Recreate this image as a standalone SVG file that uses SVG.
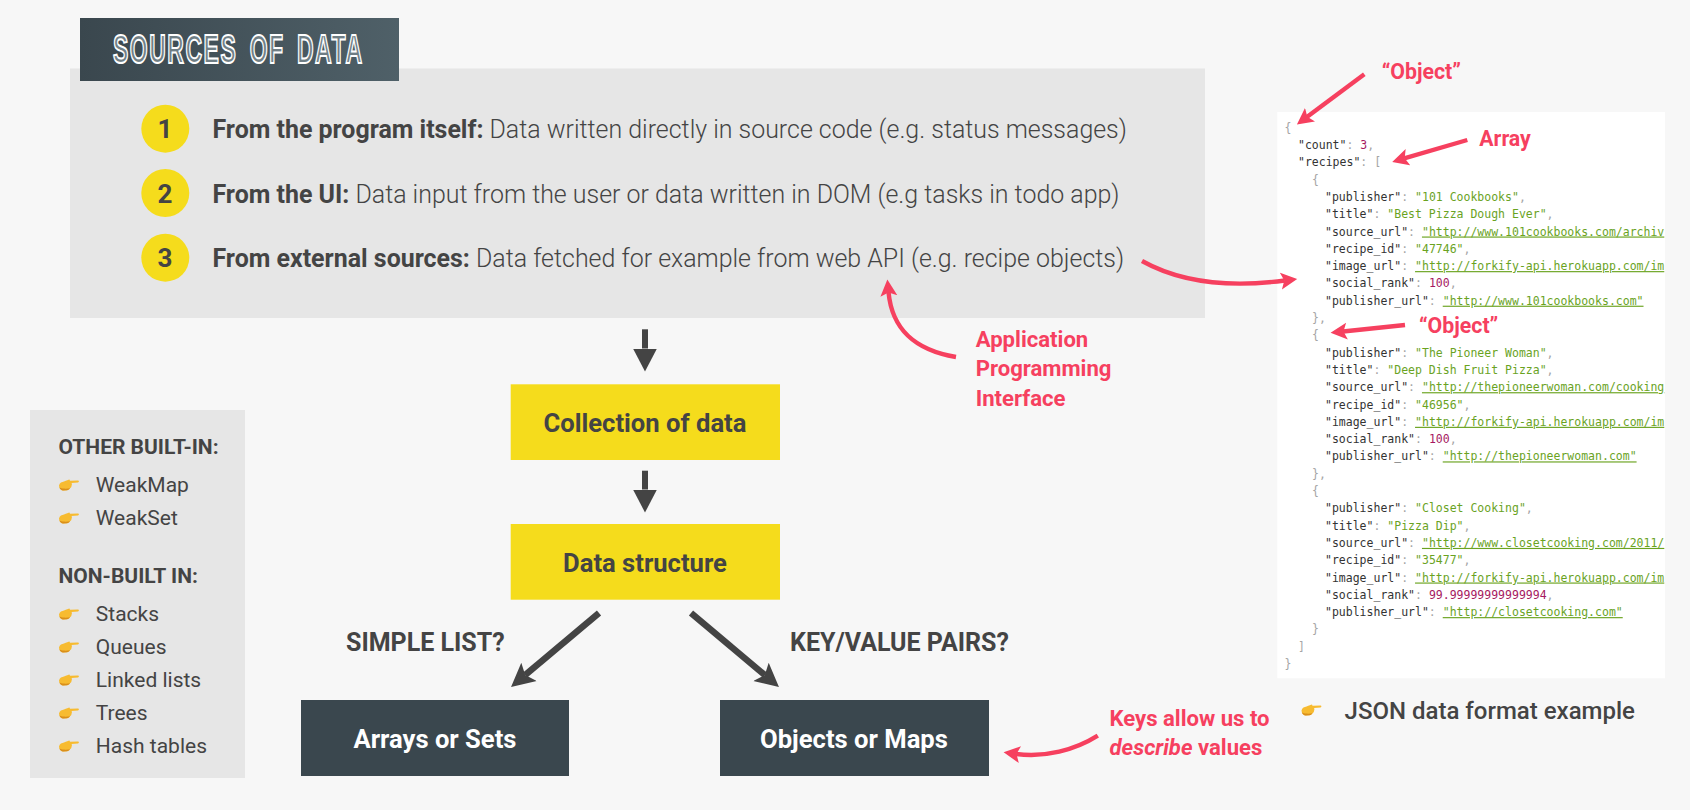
<svg xmlns="http://www.w3.org/2000/svg" width="1690" height="810" viewBox="0 0 1690 810">
<style>
text{font-family:Roboto,"Liberation Sans",sans-serif;fill:#444}
.b{font-weight:700}
.l{font-weight:300}
.m{font-weight:500}
.main{font-size:24.95px}
.num{font-size:26px;font-weight:700;text-anchor:middle}
.box{font-size:25.6px;font-weight:700;text-anchor:middle}
.wb{fill:#fff}
.q{font-size:25px;font-weight:700}
.side{font-size:21px}
.sh{font-size:21px;font-weight:700}
.red{fill:#f6405f;font-weight:700;font-size:22.1px}
.rs{font-size:21.3px}
.dk{fill:none;stroke:#444;stroke-width:6;marker-end:url(#hd)}
.dg{fill:none;stroke:#444;stroke-width:6.5;marker-end:url(#hg)}
.rd{fill:none;stroke:#f6405f;stroke-width:4.4;marker-end:url(#hr)}
.j text,.j{font-family:"DejaVu Sans Mono","Liberation Mono",monospace;font-size:11.5px;fill:#333}
.j .p{fill:#a5a5a5}
.j .s{fill:#6aa31f}
.j .u{fill:#6aa31f;text-decoration:underline}
.j .n{fill:#a6195f}
</style>
<defs>
<linearGradient id="tg" x1="0" x2="1" y1="0" y2="0"><stop offset="0" stop-color="#3a474e"/><stop offset="1" stop-color="#4f6068"/></linearGradient>
<marker id="hd" markerUnits="userSpaceOnUse" markerWidth="26" markerHeight="26" refX="0" refY="12" orient="auto" viewBox="0 0 26 24"><path d="M0 0L23 12L0 24z" fill="#444"/></marker>
<marker id="hg" markerUnits="userSpaceOnUse" markerWidth="26" markerHeight="26" refX="5" refY="12" orient="auto" viewBox="0 0 26 24"><path d="M0 0L23.5 12L0 24L5 12z" fill="#444"/></marker>
<marker id="hr" markerUnits="userSpaceOnUse" markerWidth="19" markerHeight="18" refX="4" refY="8.5" orient="auto" viewBox="0 0 19 17"><path d="M0 0L16.5 8.5L0 17L3.5 8.5z" fill="#f6405f"/></marker>
<symbol id="hand" viewBox="0 0 20 12" width="20" height="12" overflow="visible">
<path d="M0 6.5C0.6 3.6 3 2.8 5 2.4C7.5 1.8 9.5 0.9 10.5 0.6L11 1.8L19 1.6C20.2 1.7 20.2 3.3 19 3.4L12.6 4C13 5 13 6 12.5 6.8C12.6 8 12 8.9 11 9.3C10.4 10.4 9.4 11 8 11.2L4 11.4C1.6 11.4 0.2 9.6 0 6.5z" fill="#f7bb30"/>
<path d="M0.4 8.6C1.2 10.5 2.3 11.4 4 11.4L8 11.2C9.4 11 10.4 10.4 11 9.3C8 10 3.5 10 0.4 8.6z" fill="#d98f1c"/>
</symbol>
</defs>
<rect width="1690" height="810" fill="#f7f7f7"/>

<g id="sources-panel">
<rect x="70" y="68.5" width="1135" height="249.5" fill="#e6e6e6"/>
<rect x="80" y="18" width="319" height="63" fill="url(#tg)"/>
<text x="113" y="62.6" font-size="41" font-weight="700" textLength="250.5" lengthAdjust="spacingAndGlyphs" style="font-family:'Liberation Sans',sans-serif;fill:#6f7e85;stroke:#fff;stroke-width:2px;letter-spacing:2.7px;word-spacing:8px">SOURCES OF DATA</text>
</g>
<g id="source-1"><circle cx="165.3" cy="128.7" r="24" fill="#f5dc1c"/><text class="num" x="165" y="138">1</text>
<text class="main" x="212.5" y="138.3"><tspan class="b">From the program itself:</tspan><tspan class="l"> Data written directly in source code (e.g. status messages)</tspan></text></g>
<g id="source-2"><circle cx="165.3" cy="193" r="24" fill="#f5dc1c"/><text class="num" x="165" y="202.5">2</text>
<text class="main" x="212.5" y="202.8"><tspan class="b">From the UI:</tspan><tspan class="l"> Data input from the user or data written in DOM (e.g tasks in todo app)</tspan></text></g>
<g id="source-3"><circle cx="165.3" cy="257.7" r="24" fill="#f5dc1c"/><text class="num" x="165" y="267">3</text>
<text class="main" x="212.5" y="267.2"><tspan class="b">From external sources:</tspan><tspan class="l"> Data fetched for example from web API (e.g. recipe objects)</tspan></text></g>

<g id="collection"><rect x="510.7" y="384.3" width="269.3" height="75.7" fill="#f5dc1c"/><text class="box" x="645" y="431.7">Collection of data</text></g>
<g id="structure"><rect x="510.7" y="524" width="269.3" height="75.7" fill="#f5dc1c"/><text class="box" x="645" y="572">Data structure</text></g>
<g id="arrays"><rect x="301" y="700" width="268" height="76" fill="#3a474e"/><text class="box wb" x="435" y="748">Arrays or Sets</text></g>
<g id="objects"><rect x="720" y="700" width="269" height="76" fill="#3a474e"/><text class="box wb" x="854" y="748">Objects or Maps</text></g>

<g id="branch-labels">
<text class="q" x="346" y="651">SIMPLE LIST?</text>
<text class="q" x="790" y="651">KEY/VALUE PAIRS?</text>
</g>

<g id="other-structures">
<rect x="30" y="410" width="215" height="368" fill="#e6e6e6"/>
<text class="sh" x="58.5" y="454">OTHER BUILT-IN:</text>
<use href="#hand" x="59" y="479"/><text class="side" x="95.8" y="492">WeakMap</text>
<use href="#hand" x="59" y="512"/><text class="side" x="95.8" y="525">WeakSet</text>
<text class="sh" x="58.5" y="583">NON-BUILT IN:</text>
<use href="#hand" x="59" y="608"/><text class="side" x="95.8" y="621">Stacks</text>
<use href="#hand" x="59" y="641"/><text class="side" x="95.8" y="654">Queues</text>
<use href="#hand" x="59" y="674"/><text class="side" x="95.8" y="687">Linked lists</text>
<use href="#hand" x="59" y="707"/><text class="side" x="95.8" y="720">Trees</text>
<use href="#hand" x="59" y="740"/><text class="side" x="95.8" y="753">Hash tables</text>
</g>

<g id="json-example" class="j">
<rect x="1277.3" y="112" width="387.7" height="566.3" fill="#fff"/>
<text x="1284.5" y="131.7"><tspan class="p">{</tspan></text>
<text x="1298" y="149"><tspan>"count"</tspan><tspan class="p">: </tspan><tspan class="n">3</tspan><tspan class="p">,</tspan></text>
<text x="1298" y="166.3"><tspan>"recipes"</tspan><tspan class="p">: [</tspan></text>
<text x="1312" y="183.6"><tspan class="p">{</tspan></text>
<text x="1325" y="200.9"><tspan>"publisher"</tspan><tspan class="p">: </tspan><tspan class="s">"101 Cookbooks"</tspan><tspan class="p">,</tspan></text>
<text x="1325" y="218.2"><tspan>"title"</tspan><tspan class="p">: </tspan><tspan class="s">"Best Pizza Dough Ever"</tspan><tspan class="p">,</tspan></text>
<text x="1325" y="235.5"><tspan>"source_url"</tspan><tspan class="p">: </tspan><tspan class="u">"http://www.101cookbooks.com/archiv</tspan></text>
<text x="1325" y="252.8"><tspan>"recipe_id"</tspan><tspan class="p">: </tspan><tspan class="s">"47746"</tspan><tspan class="p">,</tspan></text>
<text x="1325" y="270.1"><tspan>"image_url"</tspan><tspan class="p">: </tspan><tspan class="u">"http://forkify-api.herokuapp.com/im</tspan></text>
<text x="1325" y="287.4"><tspan>"social_rank"</tspan><tspan class="p">: </tspan><tspan class="n">100</tspan><tspan class="p">,</tspan></text>
<text x="1325" y="304.7"><tspan>"publisher_url"</tspan><tspan class="p">: </tspan><tspan class="u">"http://www.101cookbooks.com"</tspan></text>
<text x="1312" y="322"><tspan class="p">},</tspan></text>
<text x="1312" y="339.3"><tspan class="p">{</tspan></text>
<text x="1325" y="356.6"><tspan>"publisher"</tspan><tspan class="p">: </tspan><tspan class="s">"The Pioneer Woman"</tspan><tspan class="p">,</tspan></text>
<text x="1325" y="373.9"><tspan>"title"</tspan><tspan class="p">: </tspan><tspan class="s">"Deep Dish Fruit Pizza"</tspan><tspan class="p">,</tspan></text>
<text x="1325" y="391.2"><tspan>"source_url"</tspan><tspan class="p">: </tspan><tspan class="u">"http://thepioneerwoman.com/cooking</tspan></text>
<text x="1325" y="408.5"><tspan>"recipe_id"</tspan><tspan class="p">: </tspan><tspan class="s">"46956"</tspan><tspan class="p">,</tspan></text>
<text x="1325" y="425.8"><tspan>"image_url"</tspan><tspan class="p">: </tspan><tspan class="u">"http://forkify-api.herokuapp.com/im</tspan></text>
<text x="1325" y="443.1"><tspan>"social_rank"</tspan><tspan class="p">: </tspan><tspan class="n">100</tspan><tspan class="p">,</tspan></text>
<text x="1325" y="460.4"><tspan>"publisher_url"</tspan><tspan class="p">: </tspan><tspan class="u">"http://thepioneerwoman.com"</tspan></text>
<text x="1312" y="477.7"><tspan class="p">},</tspan></text>
<text x="1312" y="495"><tspan class="p">{</tspan></text>
<text x="1325" y="512.3"><tspan>"publisher"</tspan><tspan class="p">: </tspan><tspan class="s">"Closet Cooking"</tspan><tspan class="p">,</tspan></text>
<text x="1325" y="529.6"><tspan>"title"</tspan><tspan class="p">: </tspan><tspan class="s">"Pizza Dip"</tspan><tspan class="p">,</tspan></text>
<text x="1325" y="546.9"><tspan>"source_url"</tspan><tspan class="p">: </tspan><tspan class="u">"http://www.closetcooking.com/2011/</tspan></text>
<text x="1325" y="564.2"><tspan>"recipe_id"</tspan><tspan class="p">: </tspan><tspan class="s">"35477"</tspan><tspan class="p">,</tspan></text>
<text x="1325" y="581.5"><tspan>"image_url"</tspan><tspan class="p">: </tspan><tspan class="u">"http://forkify-api.herokuapp.com/im</tspan></text>
<text x="1325" y="598.8"><tspan>"social_rank"</tspan><tspan class="p">: </tspan><tspan class="n">99.99999999999994</tspan><tspan class="p">,</tspan></text>
<text x="1325" y="616.1"><tspan>"publisher_url"</tspan><tspan class="p">: </tspan><tspan class="u">"http://closetcooking.com"</tspan></text>
<text x="1312" y="633.4"><tspan class="p">}</tspan></text>
<text x="1298" y="650.7"><tspan class="p">]</tspan></text>
<text x="1284.5" y="668"><tspan class="p">}</tspan></text>
</g>
<g id="json-caption"><use href="#hand" x="1301.5" y="704"/><text class="m" x="1344.6" y="719" font-size="24">JSON data format example</text></g>

<g id="connectors">
<path class="dk" d="M645 329.3V348.5"/>
<path class="dk" d="M645 470.7V489.5"/>
<path class="dg" d="M599 613L525.2 675.1"/>
<path class="dg" d="M691 613L764.8 675.1"/>
<path class="rd" d="M1364.3 74.3L1306.9 117.1"/>
<path class="rd" d="M1467.3 140L1404.2 158.4"/>
<path class="rd" d="M1405 325L1343 331.5"/>
<path class="rd" d="M1142 261C1185 285 1235 287 1284.8 280.5"/>
<path class="rd" d="M956 357C915 350 892 330 888.5 292"/>
<path class="rd" d="M1097.8 735.7C1075 750 1045 758 1016 754"/>
</g>

<g id="annotations">
<text class="red rs" x="1381.7" y="79">“Object”</text>
<text class="red rs" x="1479.3" y="145.7">Array</text>
<text class="red rs" x="1419" y="332.7">“Object”</text>
<text class="red" x="975.7" y="346.7">Application</text>
<text class="red" x="975.7" y="376">Programming</text>
<text class="red" x="975.7" y="405.7">Interface</text>
<text class="red" x="1109.5" y="726">Keys allow us to</text>
<text class="red" x="1109.5" y="755"><tspan font-style="italic">describe</tspan> values</text>
</g>
</svg>
